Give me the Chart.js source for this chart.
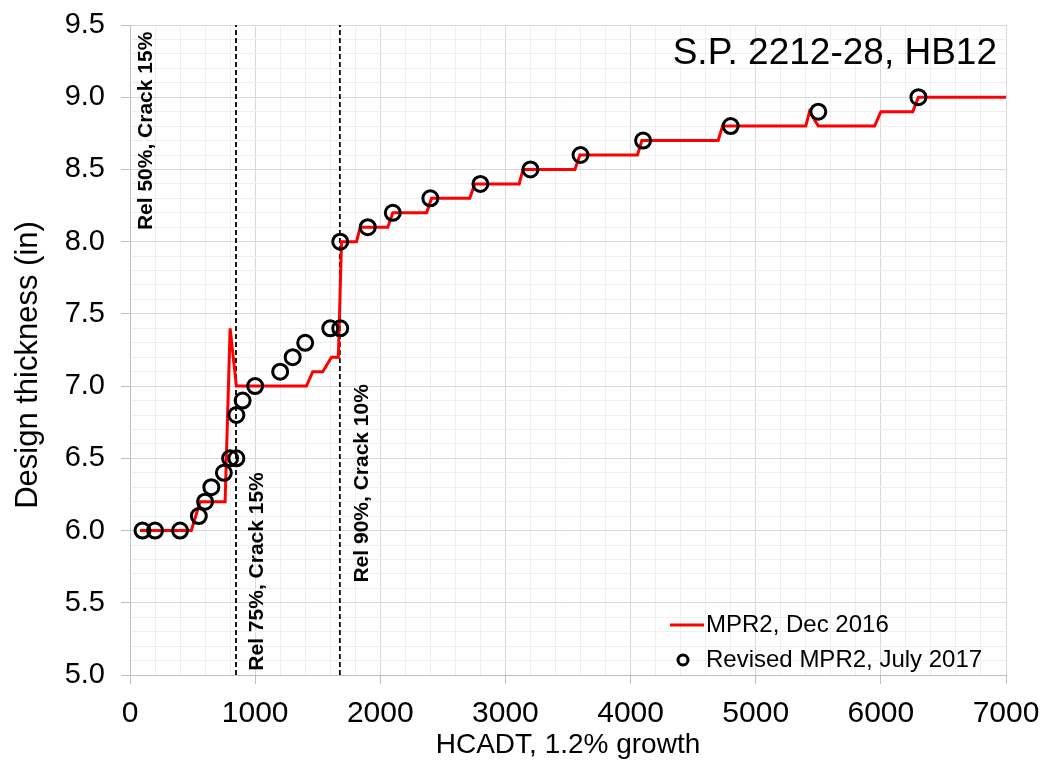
<!DOCTYPE html>
<html>
<head>
<meta charset="utf-8">
<script src="https://cdn.jsdelivr.net/npm/chart.js@4.4.1/dist/chart.umd.min.js"></script>
<style>
  html, body { margin: 0; padding: 0; background: #fff; }
  #wrap { width: 1047px; height: 767px; }
</style>
</head>
<body>
<div id="wrap"><canvas id="thicknessChart" width="1047" height="767"></canvas></div>
<script>
// MPR2, Dec 2016 (red step line)
const mprX = [80, 490, 560, 760, 800, 850, 1410, 1460, 1540, 1610, 1665, 1690, 1810, 1840, 2060, 2100, 2370, 2410, 2715, 2755, 3110, 3140, 3555, 3595, 4055, 4090, 4700, 4735, 5400, 5430, 5500, 5950, 6000, 6255, 6300, 7000];
const mprY = [6.0, 6.0, 6.2, 6.2, 7.4, 7.0, 7.0, 7.1, 7.1, 7.2, 7.2, 8.0, 8.0, 8.1, 8.1, 8.2, 8.2, 8.3, 8.3, 8.4, 8.4, 8.5, 8.5, 8.6, 8.6, 8.7, 8.7, 8.8, 8.8, 8.9, 8.8, 8.8, 8.9, 8.9, 9.0, 9.0];

// Revised MPR2, July 2017 (circles)
const revX = [100, 200, 400, 550, 600, 650, 750, 800, 850, 850, 900, 1000, 1200, 1300, 1400, 1600, 1680, 1680, 1900, 2100, 2400, 2800, 3200, 3600, 4100, 4800, 5500, 6300];
const revY = [6.0, 6.0, 6.0, 6.1, 6.2, 6.3, 6.4, 6.5, 6.5, 6.8, 6.9, 7.0, 7.1, 7.2, 7.3, 7.4, 7.4, 8.0, 8.1, 8.2, 8.3, 8.4, 8.5, 8.6, 8.7, 8.8, 8.9, 9.0];

// reliability markers
const relX = [847, 1677];
const relNotes = ["Rel 50%, Crack 15%", "Rel 75%, Crack 15%", "Rel 90%, Crack 10%"];
const relNoteX = [128, 1014, 1853];
const relNoteY = [8.08, 5.03, 5.64];

const yMin = 5.0, yMax = 9.5;
const xMin = 0, xMax = 7000;

const FONT = "'Liberation Sans', Arial, sans-serif";

function isMajor(v, step) {
  return Math.abs(v / step - Math.round(v / step)) < 1e-6;
}

const toPts = (xs, ys) => xs.map((x, i) => ({ x: x, y: ys[i] }));

const dashSets = relX.map((x) => ({
  label: "rel" + x,
  data: [{ x: x, y: yMin }, { x: x, y: yMax }],
  showLine: true,
  borderColor: "#000",
  borderWidth: 1.8,
  borderDash: [5, 3],
  pointRadius: 0,
  fill: false,
}));

// rotated notes, y title, chart title and in-plot legend
const extras = {
  id: "extras",
  afterDatasetsDraw(chart) {
    const ctx = chart.ctx;
    const xs = chart.scales.x;
    const ys = chart.scales.y;

    ctx.save();
    ctx.fillStyle = "#000";
    ctx.font = "bold 21px " + FONT;
    ctx.textAlign = "left";
    ctx.textBaseline = "middle";
    relNotes.forEach((t, i) => {
      ctx.save();
      ctx.translate(xs.getPixelForValue(relNoteX[i]), ys.getPixelForValue(relNoteY[i]));
      ctx.rotate(-Math.PI / 2);
      ctx.fillText(t, 0, 0);
      ctx.restore();
    });

    // y axis title (a bit below the plot centre, as in the source)
    ctx.save();
    ctx.font = "31px " + FONT;
    ctx.textAlign = "center";
    ctx.textBaseline = "middle";
    ctx.translate(28, 365);
    ctx.rotate(-Math.PI / 2);
    ctx.fillText("Design thickness (in)", 0, 0);
    ctx.restore();

    ctx.font = "37px " + FONT;
    ctx.textAlign = "right";
    ctx.textBaseline = "alphabetic";
    ctx.fillText("S.P. 2212-28, HB12", 997, 64);

    // legend
    ctx.strokeStyle = "#ff0000";
    ctx.lineWidth = 3;
    ctx.beginPath();
    ctx.moveTo(670, 625);
    ctx.lineTo(704, 625);
    ctx.stroke();

    ctx.strokeStyle = "#000";
    ctx.lineWidth = 3;
    ctx.beginPath();
    ctx.arc(683, 660, 5, 0, Math.PI * 2);
    ctx.stroke();

    ctx.font = "24px " + FONT;
    ctx.textAlign = "left";
    ctx.textBaseline = "middle";
    ctx.fillText("MPR2, Dec 2016", 706, 625);
    ctx.fillText("Revised MPR2, July 2017", 706, 660);
    ctx.restore();
  },
};

const chartData = {
  datasets: [
    {
      label: "Revised MPR2, July 2017",
      data: toPts(revX, revY),
      showLine: false,
      pointRadius: 7.5,
      pointBorderWidth: 3,
      pointBorderColor: "#000",
      pointBackgroundColor: "rgba(0,0,0,0)",
    },
    {
      label: "MPR2, Dec 2016",
      data: toPts(mprX, mprY),
      showLine: true,
      borderColor: "#ff0000",
      borderWidth: 3,
      pointRadius: 0,
      tension: 0,
      fill: false,
    },
    ...dashSets,
  ],
};

const chartConfig = {
  type: "scatter",
  data: chartData,
  options: {
    responsive: false,
    animation: false,
    layout: { padding: { top: 25, right: 41, bottom: 0, left: 0 } },
    plugins: {
      legend: { display: false },
      tooltip: { enabled: false },
    },
    scales: {
      x: {
        type: "linear",
        min: xMin,
        max: xMax,
        afterFit(scale) {
          scale.height = 92;
          scale.paddingLeft = 0;
          scale.paddingRight = 0;
        },
        border: { color: "#bfbfbf", width: 1 },
        grid: {
          color: (c) => (c.tick && isMajor(c.tick.value, 1000) ? "#d9d9d9" : "#efefef"),
          tickColor: (c) => (c.tick && isMajor(c.tick.value, 1000) ? "#bfbfbf" : "rgba(0,0,0,0)"),
          tickLength: 9,
          lineWidth: 1,
        },
        ticks: {
          stepSize: 200,
          autoSkip: false,
          maxRotation: 0,
          padding: 12,
          color: "#000",
          font: { family: FONT, size: 30 },
          callback: (v) => (isMajor(v, 1000) ? String(Math.round(v)) : ""),
        },
        title: {
          display: true,
          text: "HCADT, 1.2% growth",
          color: "#000",
          font: { family: FONT, size: 28 },
          padding: { top: 0, bottom: 5 },
        },
      },
      y: {
        type: "linear",
        min: yMin,
        max: yMax,
        afterFit(scale) {
          scale.width = 130;
          scale.paddingTop = 0;
          scale.paddingBottom = 0;
        },
        border: { color: "#bfbfbf", width: 1 },
        grid: {
          color: (c) => (c.tick && isMajor(c.tick.value, 0.5) ? "#d9d9d9" : "#efefef"),
          tickColor: (c) => (c.tick && isMajor(c.tick.value, 0.5) ? "#bfbfbf" : "rgba(0,0,0,0)"),
          tickLength: 9,
          lineWidth: 1,
        },
        ticks: {
          stepSize: 0.1,
          autoSkip: false,
          padding: 16,
          color: "#000",
          font: { family: FONT, size: 29 },
          callback: (v) => (isMajor(v, 0.5) ? v.toFixed(1) : ""),
        },
      },
    },
  },
  plugins: [extras],
};

const thicknessChart = new Chart(document.getElementById("thicknessChart"), chartConfig);
</script>
</body>
</html>
